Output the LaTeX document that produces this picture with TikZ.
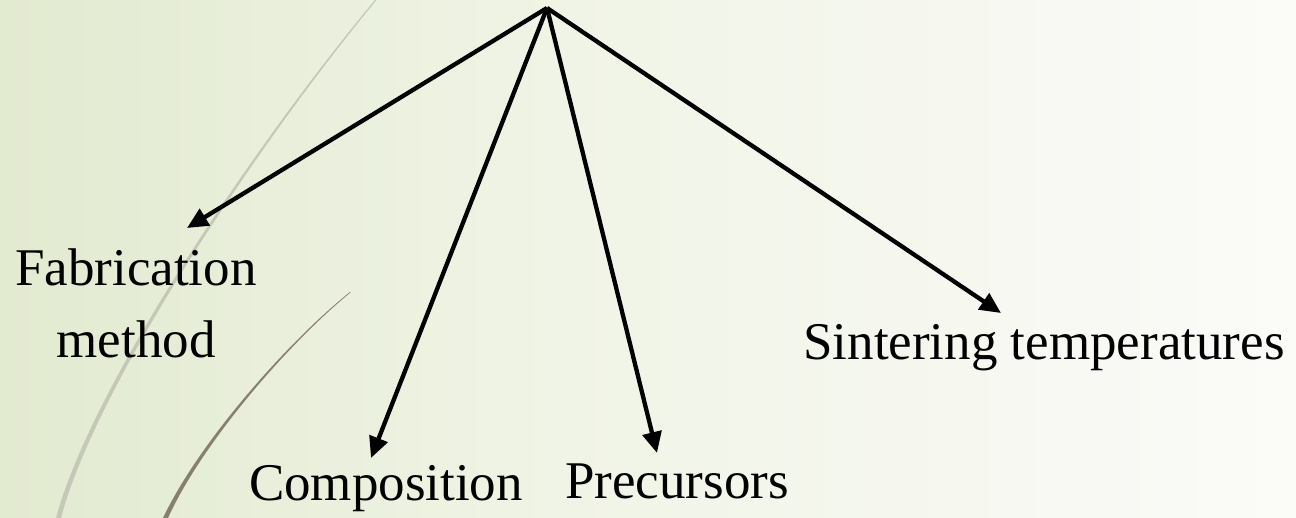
\documentclass[tikz,border=0pt]{standalone}
\usepackage{fontspec}
\setmainfont{Liberation Serif}
\usetikzlibrary{arrows.meta}
\definecolor{bgleft}{RGB}{226,234,208}
\definecolor{bgmid}{RGB}{240,244,230}
\definecolor{bgright}{RGB}{251,251,248}
\definecolor{arcone}{RGB}{198,200,183}
\definecolor{arctwo}{RGB}{135,128,108}
\tikzset{
  conn/.style={line width=4.3pt, -{Triangle[length=21pt,width=19pt]}},
  lbl/.style={font=\fontsize{53}{74}\selectfont, inner sep=0pt, text=black},
}
\begin{document}
\begin{tikzpicture}[x=1pt,y=-1pt]
\useasboundingbox (0,0) rectangle (1296,518);
% background
\shade[left color=bgleft, right color=bgmid] (0,0) rectangle (560,518);
\shade[left color=bgmid, right color=bgright] (560,0) rectangle (1296,518);
% decorative arcs
\fill[arcone] (375,0) .. controls (250,150) and (90,390) .. (56,518)
   -- (61,518) .. controls (94,391) and (252,151) .. (376.5,0) -- cycle;
\fill[arctwo] (350,292) .. controls (290,340) and (200,440) .. (163,518)
   -- (168,518) .. controls (203,441) and (291,341) .. (350.5,292.5) -- cycle;
% labels
\node[lbl, anchor=base] (fab) at (136,286) {Fabrication};
\node[lbl, anchor=base] (meth) at (136,358) {method};
\node[lbl, anchor=base] (comp) at (386,500) {Composition};
\node[lbl, anchor=base] (prec) at (677,498) {Precursors};
\node[lbl, anchor=base] (sint) at (1044,360) {Sintering temperatures};
% apex and arrow tips
\coordinate (apex) at (547,8);
\coordinate (tfab) at (187,228);
\coordinate (tcomp) at (371,458);
\coordinate (tprec) at (657,453);
\coordinate (tsint) at (1001,313);
\draw[conn] (apex) -- (tfab);
\draw[conn] (apex) -- (tcomp);
\draw[conn] (apex) -- (tprec);
\draw[conn] (apex) -- (tsint);
\end{tikzpicture}
\end{document}
